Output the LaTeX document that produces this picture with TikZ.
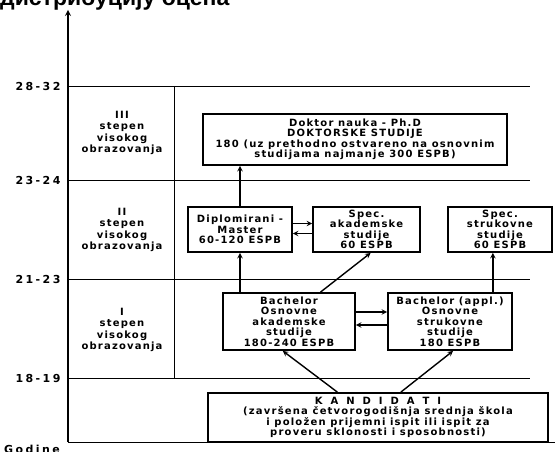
\documentclass[tikz,border=0pt]{standalone}
\usepackage{fontspec}
\setmainfont{Liberation Sans}
\newfontfamily\boxfont[LetterSpace=12]{DejaVu Sans}
\newfontfamily\yearfont[LetterSpace=22]{DejaVu Sans}
\usepackage{tikz}
\usetikzlibrary{arrows}
\tikzstyle{grid} = [line width=0.8pt]
\tikzstyle{axis} = [line width=1.6pt, ->, >=stealth]
\tikzstyle{stage} = [rectangle, draw=black, line width=1.8pt, align=center, inner sep=0pt,
font=\boxfont\bfseries\fontsize{10}{10.5}\selectfont]
\tikzstyle{level} = [align=center, font=\boxfont\bfseries\fontsize{10}{11.5}\selectfont]
\tikzstyle{years} = [font=\yearfont\bfseries\fontsize{11}{12}\selectfont]
\tikzstyle{arrow} = [line width=1.4pt, ->, >=stealth]
\newcommand{\wide}{\hspace{8pt}}
\begin{document}
\begin{tikzpicture}[x=1pt,y=-1pt]
        \useasboundingbox (0,0) rectangle (555,452);
        \node[anchor=base west, inner sep=0pt, font=\bfseries\fontsize{23}{23}\selectfont] (title) at (0,6) {дистрибуцију оцена};

        % axes and grid
        \coordinate (origin) at (68,442);
        \draw[axis] (origin) -- (68,10);
        \draw[grid] (origin) -- (555,442);
        \foreach \yy/\lab in {86/28-32, 180/23-24, 279/21-23, 378/18-19}{
            \draw[grid] (68,\yy) -- (530,\yy);
            \node[years] at (38,\yy) {\lab};
        }
        \draw[grid] (174,86) -- (174,378);
        \node[years, anchor=base west, inner sep=0pt] (godine) at (4,453) {Godine};

        % levels
        \node[level] (lvl3) at (122,133) {III\\stepen\\visokog\\obrazovanja};
        \node[level] (lvl2) at (122,230) {II\\stepen\\visokog\\obrazovanja};
        \node[level] (lvl1) at (122,330) {I\\stepen\\visokog\\obrazovanja};

        % studies
        \node[stage, minimum width=304, minimum height=51] (doc) at (355,139.5)
        {Doktor nauka - Ph.D\\DOKTORSKE STUDIJE\\180 (uz prethodno ostvareno na osnovnim\\studijama najmanje 300 ESPB)};
        \node[stage, minimum width=104, minimum height=45] (master) at (240,229.5)
        {Diplomirani -\\Master\\60-120 ESPB};
        \node[stage, minimum width=107, minimum height=45] (specak) at (366.5,229.5)
        {Spec.\\akademske\\studije\\60 ESPB};
        \node[stage, minimum width=104, minimum height=45] (specst) at (500,229.5)
        {Spec.\\strukovne\\studije\\60 ESPB};
        \node[stage, minimum width=132, minimum height=57] (bach) at (289,321.5)
        {Bachelor\\Osnovne\\akademske\\studije\\180-240 ESPB};
        \node[stage, minimum width=124, minimum height=57] (bachap) at (450,321.5)
        {Bachelor (appl.)\\Osnovne\\strukovne\\studije\\180 ESPB};
        \node[stage, minimum width=340, minimum height=49] (kand) at (378,417.5)
        {K\wide A\wide N\wide D\wide I\wide D\wide A\wide T\wide I\\(završena četvorogodišnja srednja škola\\i položen prijemni ispit ili ispit za\\proveru sklonosti i sposobnosti)};

        % Arrows
        \draw[arrow] (master.north) -- (doc.south -| master.north);
        \draw[arrow] (bach.north -| master.south) -- (master.south);
        \draw[arrow] (bach.43) -- (specak.-80);
        \draw[arrow] (bachap.north -| specst.-107) -- (specst.-107);
        \draw[arrow] ([yshift=6pt]master.east) -- ([yshift=6pt]specak.west);
        \draw[arrow] ([yshift=-4pt]specak.west) -- ([yshift=-4pt]master.east);
        \draw[arrow] ([yshift=9.5pt]bach.east) -- ([yshift=9.5pt]bachap.west);
        \draw[arrow] ([yshift=-3.5pt]bachap.west) -- ([yshift=-3.5pt]bach.east);
        \draw[arrow] (kand.148) -- (bach.-102);
        \draw[arrow] (kand.48) -- (bachap.-84);
\end{tikzpicture}
\end{document}
